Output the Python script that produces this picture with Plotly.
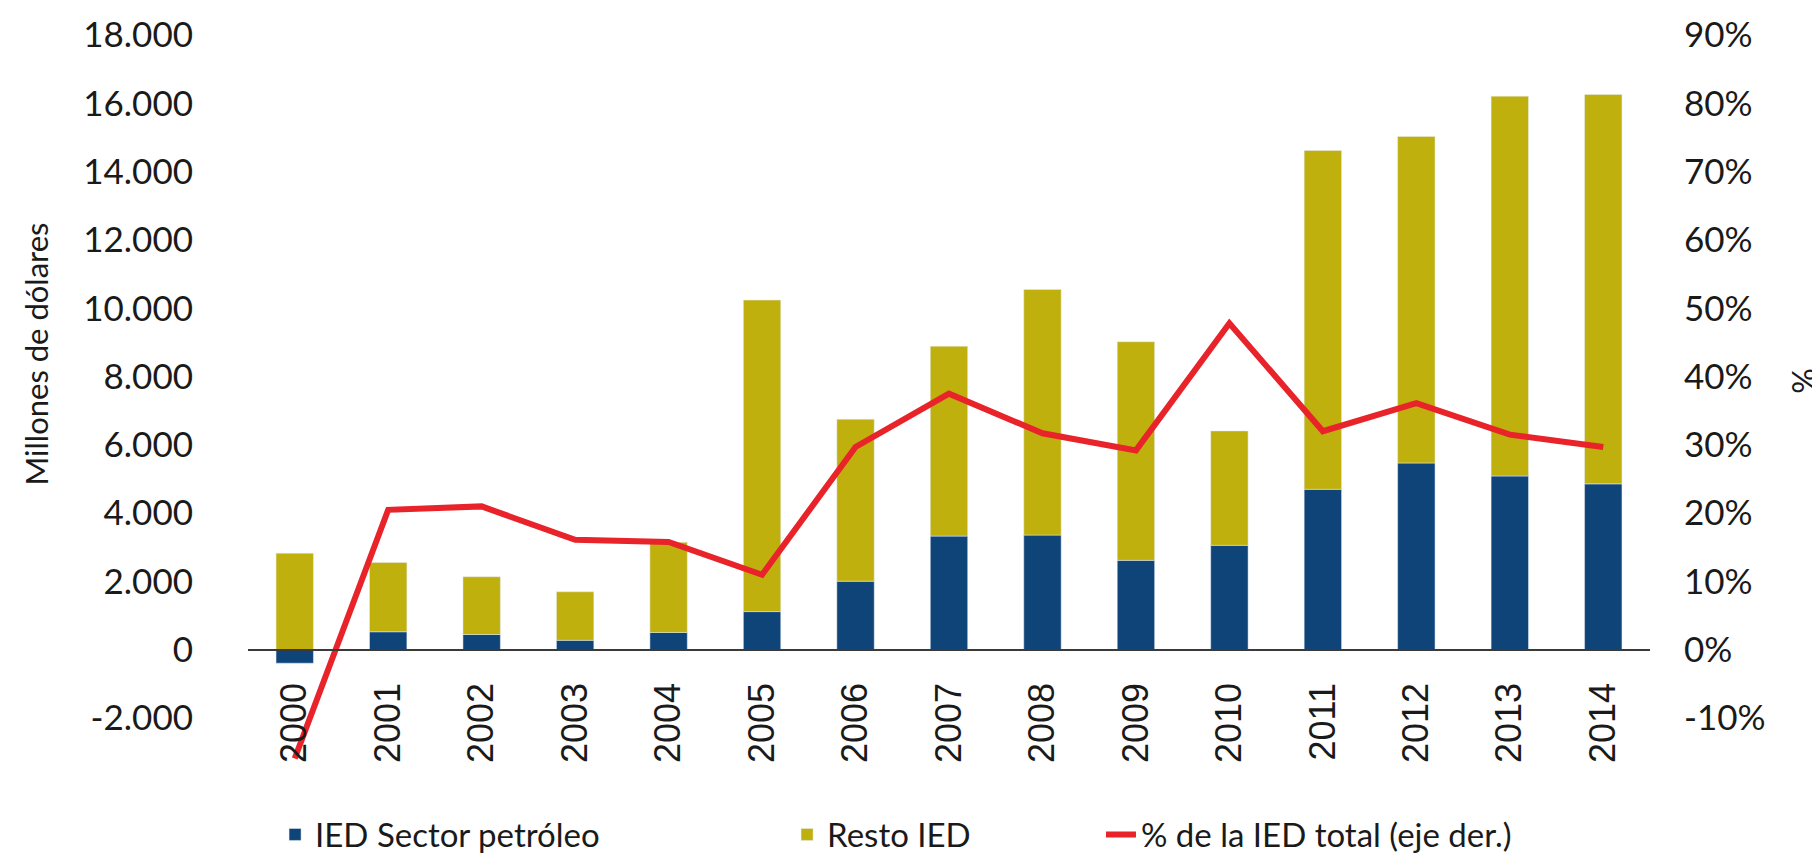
import plotly.graph_objects as go
from plotly.subplots import make_subplots

years = [str(y) for y in range(2000, 2015)]
ied_petroleo = [-390, 530, 450, 280, 510, 1120, 2010, 3330, 3360, 2620, 3060, 4700, 5470, 5090, 4860]
resto_ied = [2830, 2030, 1690, 1420, 2640, 9120, 4740, 5560, 7190, 6400, 3350, 9920, 9560, 11120, 11400]
pct_total = [-0.159, 0.205, 0.210, 0.161, 0.158, 0.110, 0.297, 0.375, 0.317, 0.292, 0.478, 0.320, 0.361, 0.315, 0.297]

LEFT_MIN, LEFT_MAX = -3400, 18000
FONT = "Lato"

def render_bars_and_line(x, bars_1, bars_2, line):
    fig = make_subplots(specs=[[{"secondary_y": True}]])
    fig.add_trace(go.Bar(
                  x = x,
                  y = bars_1,
                  name = "IED Sector petróleo",
                  marker_color = "#0F4479",
                  width = 0.4,
                  legend = "legend"),
                  secondary_y=False)
    fig.add_trace(go.Bar(
                  x = x,
                  y = bars_2,
                  name = "Resto IED",
                  marker_color = "#C0B00D",
                  width = 0.4,
                  legend = "legend2"),
                  secondary_y=False)
    fig.add_trace(go.Scatter(
                  x = x,
                  y = line,
                  mode = 'lines',
                  line = dict(color="#E8232A", width=6),
                  name = "% de la IED total (eje der.)",
                  legend = "legend3"),
                  secondary_y=True)
    legend_common = dict(orientation="h", yanchor="bottom", y=-0.132,
                         xanchor="left", font=dict(family=FONT, size=33, color="#1a1a1a"),
                         bgcolor="rgba(0,0,0,0)")
    fig.update_layout(width=1820, height=856,
                      margin=dict(l=240, r=178, t=27, b=98, autoexpand=False),
                      barmode="relative",
                      plot_bgcolor="white", paper_bgcolor="white",
                      font=dict(family=FONT, size=35, color="#1a1a1a"),
                      legend=dict(x=0.0193, **legend_common),
                      legend2=dict(x=0.3845, **legend_common),
                      legend3=dict(x=0.6084, **legend_common))
    # titulos de los ejes como anotaciones para ubicarlos igual que el original
    fig.add_annotation(text="Millones de dólares", textangle=-90,
                       xref="paper", yref="paper", x=-0.1512, y=0.563,
                       xanchor="center", yanchor="middle", showarrow=False,
                       font=dict(family=FONT, size=31, color="#1a1a1a"))
    fig.add_annotation(text="%", textangle=-90,
                       xref="paper", yref="paper", x=1.1098, y=0.527,
                       xanchor="center", yanchor="middle", showarrow=False,
                       font=dict(family=FONT, size=32, color="#1a1a1a"))
    fig.update_traces(showlegend=True)
    fig.update_xaxes(domain=[0, 1], anchor="free",
                     position=(0 - LEFT_MIN) / (LEFT_MAX - LEFT_MIN),
                     showline=True, linecolor="#3a3a3a", linewidth=1.5,
                     showgrid=False, ticks="", tickangle=-90, ticklabelstandoff=18,
                     tickfont=dict(family="Liberation Sans", size=36, color="#1a1a1a"))
    fig.update_yaxes(secondary_y=False,
                     range=[LEFT_MIN, LEFT_MAX], showgrid=False, zeroline=False,
                     tickvals=list(range(-2000, 18001, 2000)),
                     ticktext=["-2.000", "0"] + [f"{v // 1000}.000" for v in range(2000, 18001, 2000)],
                     ticklabelstandoff=54)
    fig.update_yaxes(secondary_y=True,
                     range=[LEFT_MIN / 20000, LEFT_MAX / 20000], showgrid=False, zeroline=False,
                     tickvals=[v / 100 for v in range(-10, 91, 10)],
                     ticktext=[f"{v}%" for v in range(-10, 91, 10)],
                     ticklabelstandoff=33)
    return  fig

fig = render_bars_and_line(years, ied_petroleo, resto_ied, pct_total)
fig.write_html("out.html")
